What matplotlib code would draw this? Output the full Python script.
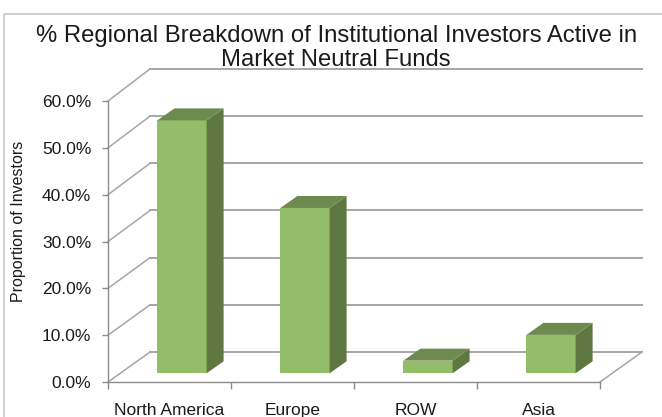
import matplotlib.pyplot as plt
import numpy as np

plt.rcParams['font.family'] = ['Liberation Sans', 'DejaVu Sans']

categories = ['North America', 'Europe', 'ROW', 'Asia']
values = [54.0, 35.3, 2.7, 8.2]
yticks = [0, 10, 20, 30, 40, 50, 60]

W, H = 662, 417
left, right, bottom, top = 108, 600, 382, 101

fig = plt.figure(figsize=(W / 100, H / 100), dpi=100)
ax = fig.add_axes([left / W, 1 - bottom / H, (right - left) / W, (bottom - top) / H])
ax.set_xlim(-0.5, 3.5)
ax.set_ylim(0, 60)

# pixels to data units, the 3d look is just offsets
px = 4 / (right - left)
py = 60 / (bottom - top)
wall_dx, wall_dy = 42 * px, 30 * py
back_scale = 283 / 281  # back wall comes out a bit taller than the front
bar_dx, bar_dy = 17 * px, 12 * py
base_dx, base_dy = 12.5 * px, 8.7 * py
bar_w = 0.4

grid = '#a6a6a6'
for v in yticks:
    back = v * back_scale + wall_dy
    ax.plot([-0.5, -0.5 + wall_dx], [v, back], color=grid, lw=1.1, clip_on=False, zorder=1)
    ax.plot([-0.5 + wall_dx, 3.5 + wall_dx], [back, back], color=grid, lw=1.4,
            clip_on=False, zorder=1)
ax.plot([3.5, 3.5 + wall_dx], [0, wall_dy], color=grid, lw=1.1, clip_on=False, zorder=1)

x = np.arange(len(categories))
ax.bar(x + base_dx, values, width=bar_w, bottom=base_dy, color='#93bd68', zorder=3, clip_on=False)
for xi, v in zip(x + base_dx, values):
    x0, x1 = xi - bar_w / 2, xi + bar_w / 2
    y0, y1 = base_dy, base_dy + v
    ax.fill([x1, x1 + bar_dx, x1 + bar_dx, x1], [y0, y0 + bar_dy, y1 + bar_dy, y1],
            color='#5f7842', lw=0, zorder=3, clip_on=False)
    ax.fill([x0, x0 + bar_dx, x1 + bar_dx, x1], [y1, y1 + bar_dy, y1 + bar_dy, y1],
            color='#6d8b4e', lw=0, zorder=3, clip_on=False)

ax.patch.set_alpha(0)
for s in ['top', 'right']:
    ax.spines[s].set_visible(False)
for s in ['left', 'bottom']:
    ax.spines[s].set_color('#8c8c8c')
    ax.spines[s].set_linewidth(1.0)

ax.set_yticks(yticks)
ax.set_yticklabels(['%.1f%%' % v for v in yticks], fontsize=12.5, color='#1a1a1a')
ax.set_xticks(np.arange(-0.5, 4))
ax.set_xticklabels([])
ax.set_xticks(x, minor=True)
ax.set_xticklabels(categories, minor=True, fontsize=12.5, color='#1a1a1a')
ax.tick_params(axis='y', length=4, width=1, color='#8c8c8c', pad=8)
ax.tick_params(axis='x', which='major', length=5, width=1, color='#8c8c8c')
ax.tick_params(axis='x', which='minor', length=0, pad=15)

fig.text(19 / W, 1 - 221 / H, 'Proportion of Investors', rotation=90, ha='center', va='center',
         fontsize=11.5, color='#1a1a1a')
fig.text(336.5 / W, 1 - 36 / H, '% Regional Breakdown of Institutional Investors Active in',
         ha='center', va='center', fontsize=17.2, color='#1a1a1a')
fig.text(336 / W, 1 - 60 / H, 'Market Neutral Funds', ha='center', va='center', fontsize=17.2,
         color='#1a1a1a')

# chart frame
frame = '#c8c8c8'
fig.add_artist(plt.Line2D([4 / W, 4 / W, 1], [0, 1 - 14 / H, 1 - 14 / H], color=frame, lw=1.2))

fig.savefig('out.png', dpi=100)
